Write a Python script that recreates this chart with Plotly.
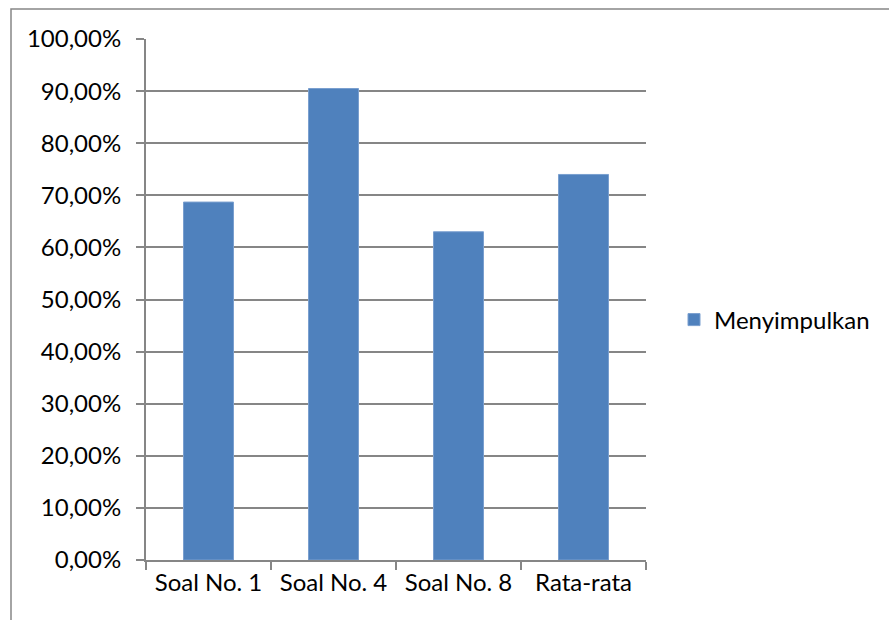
import plotly.graph_objects as go

categories = ["Soal No. 1", "Soal No. 4", "Soal No. 8", "Rata-rata"]
values = [0.687, 0.905, 0.630, 0.740]
series_name = "Menyimpulkan"
y_ticks = [0, 0.1, 0.2, 0.3, 0.4, 0.5, 0.6, 0.7, 0.8, 0.9, 1.0]

W, H = 889, 620
L, R, T, B = 146, 243, 39, 60
pw = W - L - R
ph = H - T - B

def px_x(x):
    return (x - L) / pw

def px_y(y):
    return (H - B - y) / ph

fig = go.Figure()
fig.add_trace(go.Bar(
    x=categories, y=values, name=series_name,
    marker=dict(color="#4F81BD", line=dict(color="#7A9FCF", width=1)),
    showlegend=True,
))

fig.update_layout(
    width=W, height=H,
    margin=dict(l=L, r=R, t=T, b=B, pad=0),
    paper_bgcolor="white", plot_bgcolor="white",
    separators=",.",
    bargap=0.6,
    font=dict(family="Lato, Open Sans, sans-serif", size=24, color="#000000"),
    showlegend=True,
    legend=dict(x=px_x(674), y=px_y(320), xanchor="left", yanchor="middle",
                font=dict(size=24), itemwidth=30, bgcolor="rgba(0,0,0,0)"),
    xaxis=dict(
        showline=True, linecolor="#868686", linewidth=2,
        ticks="outside", ticklen=8, tickcolor="#868686", tickwidth=2,
        tickson="boundaries", showgrid=False, fixedrange=True,
    ),
    yaxis=dict(
        range=[0, 1.0], tickvals=y_ticks, tickformat=".2%",
        showline=True, linecolor="#868686", linewidth=2,
        ticks="outside", ticklen=8, tickcolor="#868686", tickwidth=2,
        showgrid=True, gridcolor="#868686", gridwidth=2,
        zeroline=False, ticklabelstandoff=10, fixedrange=True,
    ),
    shapes=[dict(type="rect", xref="paper", yref="paper",
                 x0=px_x(11), x1=px_x(1000), y0=px_y(700), y1=px_y(9),
                 line=dict(color="#868686", width=1.5), layer="below")],
)

fig.write_html("out.html")
